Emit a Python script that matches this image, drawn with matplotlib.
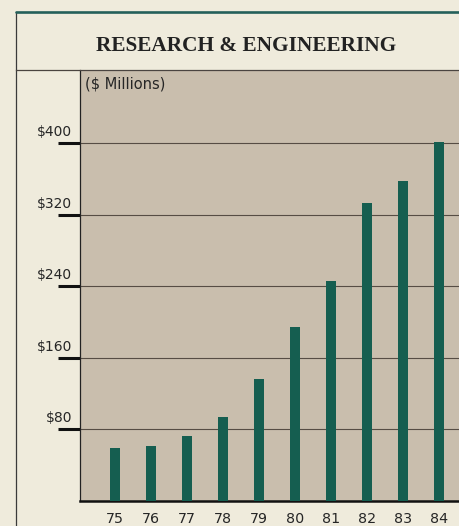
import matplotlib
matplotlib.use("Agg")
import matplotlib.pyplot as plt
from matplotlib.lines import Line2D
import matplotlib.transforms as mtransforms

# Research & engineering spending, $ millions, fiscal years 1975-1984
years = ["75", "76", "77", "78", "79", "80", "81", "82", "83", "84"]
spending = [59, 62, 73, 94, 136, 194, 246, 333, 358, 401]
y_ticks = [80, 160, 240, 320, 400]
y_tick_labels = ["$80", "$160", "$240", "$320", "$400"]

W, H = 460, 526
cream = "#EFEBDC"
tan = "#C9BEAD"
teal = "#155E50"
ink = "#262626"

fig = plt.figure(figsize=(W / 100, H / 100), dpi=100, facecolor=cream)

def fx(px):
    return px / W

def fy(py):
    return 1 - py / H

ax = fig.add_axes([fx(80), fy(501), fx(460) - fx(80), fy(70) - fy(501)])
ax.set_facecolor(tan)

x = list(range(len(years)))
ax.bar(x, spending, width=0.28, color=teal, zorder=3)

ax.set_xlim(-0.97, 9.575)
ax.set_ylim(0, 481.6)

for v in y_ticks:
    ax.axhline(v, color="#564d44", lw=0.8, zorder=2)

ax.set_yticks(y_ticks)
ax.set_yticklabels([])
ax.tick_params(axis="y", length=15.5, width=2.2, color="#111111", direction="out")
ax.set_xticks(x)
ax.set_xticklabels(years, fontsize=10.3, color=ink, family="DejaVu Sans")
ax.tick_params(axis="x", length=0, pad=8)

label_tr = ax.get_yaxis_transform() + mtransforms.ScaledTranslation(-8 / 100, 11 / 100, fig.dpi_scale_trans)
for v, lab in zip(y_ticks, y_tick_labels):
    ax.text(0, v, lab, transform=label_tr, ha="right", va="center",
            fontsize=10, color=ink, family="DejaVu Sans")

for side in ["top", "right"]:
    ax.spines[side].set_visible(False)
ax.spines["left"].set_color("#222222")
ax.spines["left"].set_linewidth(0.9)
ax.spines["bottom"].set_color("#111111")
ax.spines["bottom"].set_linewidth(1.8)

ax.text(0.013, 0.985, "($ Millions)", transform=ax.transAxes, ha="left", va="top",
        fontsize=10.5, color=ink, family="DejaVu Sans")

# Frame: green rule on top, left border, separator under the heading
fig.add_artist(Line2D([fx(16), fx(16)], [fy(12), fy(526)], color="#3a3a3a", lw=0.9))
fig.add_artist(Line2D([fx(16), fx(460)], [fy(12), fy(12)], color="#24605A", lw=1.9,
                      solid_capstyle="round"))
fig.add_artist(Line2D([fx(16), fx(460)], [fy(70), fy(70)], color="#4a4440", lw=0.9))

fig.text(fx(246.5), fy(46), "RESEARCH & ENGINEERING", ha="center", va="center",
         fontsize=15.3, fontweight="bold", color="#222222", family="Liberation Serif")

fig.savefig("out.png", dpi=100, facecolor=cream)
